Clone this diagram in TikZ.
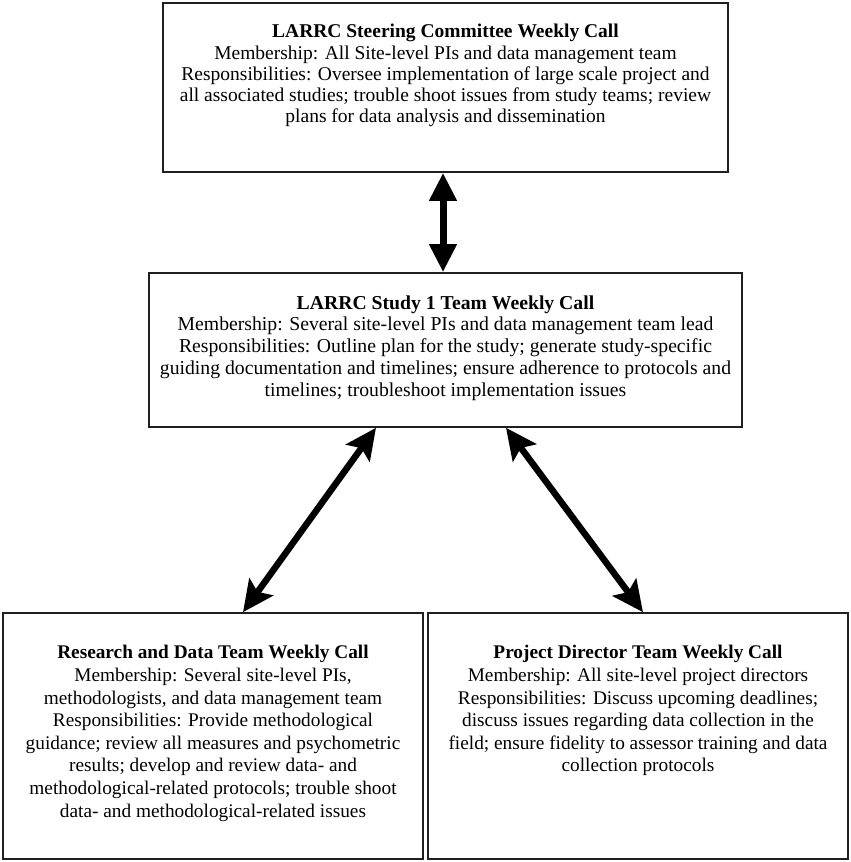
\documentclass[tikz,border=0pt]{standalone}
\usepackage{fontspec}
\setmainfont{Liberation Serif}
\usetikzlibrary{arrows.meta,calc}
\begin{document}
\begin{tikzpicture}[x=1pt,y=-1pt,
  box/.style={draw=black!88,line width=1.6pt,rectangle,inner sep=0pt},
  boxtext/.style={align=center,inner sep=0pt,anchor=north,font=\fontsize{19.5}{21.2}\selectfont},
  boxtextm/.style={align=center,inner sep=0pt,anchor=north,font=\fontsize{19.7}{21.8}\selectfont},
  boxtextb/.style={align=center,inner sep=0pt,anchor=north,font=\fontsize{19.3}{22.6}\selectfont},
  vlink/.style={line width=7pt,{Triangle[length=28pt,width=26pt]}-{Triangle[length=28pt,width=26pt]}},
  dlink/.style={line width=6.5pt,{Stealth[length=31pt,width=29pt,inset=6pt]}-{Stealth[length=31pt,width=29pt,inset=6pt]}}
]
\useasboundingbox (0,0) rectangle (851,862);
\fill[white] (0,0) rectangle (851,862);

\node[box,minimum width=565pt,minimum height=169pt] (top) at (445.5,87.5) {};
\node[box,minimum width=593pt,minimum height=154pt] (mid) at (445.5,350) {};
\node[box,minimum width=420pt,minimum height=246pt] (left) at (213,736) {};
\node[box,minimum width=420pt,minimum height=246pt] (right) at (638,736) {};

\node[boxtext] (toptext) at ($(top.north)+(0,22)$) {\textbf{LARRC Steering Committee Weekly Call}\\
Membership: All Site-level PIs and data management team\\
Responsibilities: Oversee implementation of large scale project and\\
all associated studies; trouble shoot issues from study teams; review\\
plans for data analysis and dissemination};

\node[boxtextm] (midtext) at ($(mid.north)+(0,23)$) {\textbf{LARRC Study 1 Team Weekly Call}\\
Membership: Several site-level PIs and data management team lead\\
Responsibilities: Outline plan for the study; generate study-specific\\
guiding documentation and timelines; ensure adherence to protocols and\\
timelines; troubleshoot implementation issues};

\node[boxtextb] (lefttext) at ($(left.north)+(0,33)$) {\textbf{Research and Data Team Weekly Call}\\
Membership: Several site-level PIs,\\
methodologists, and data management team\\
Responsibilities: Provide methodological\\
guidance; review all measures and psychometric\\
results; develop and review data- and\\
methodological-related protocols; trouble shoot\\
data- and methodological-related issues};

\node[boxtextb] (righttext) at ($(right.north)+(0,33)$) {\textbf{Project Director Team Weekly Call}\\
Membership: All site-level project directors\\
Responsibilities: Discuss upcoming deadlines;\\
discuss issues regarding data collection in the\\
field; ensure fidelity to assessor training and data\\
collection protocols};

\coordinate (vA) at (top.south -| 443,0);
\coordinate (vB) at (mid.north -| 443,0);
\draw[vlink] (vA) -- (vB);

\coordinate (lA) at (mid.south -| 376,0);
\coordinate (lB) at (left.north -| 243,0);
\draw[dlink] (lA) -- (lB);

\coordinate (rA) at (mid.south -| 506,0);
\coordinate (rB) at (right.north -| 643,0);
\draw[dlink] (rA) -- (rB);
\end{tikzpicture}
\end{document}
